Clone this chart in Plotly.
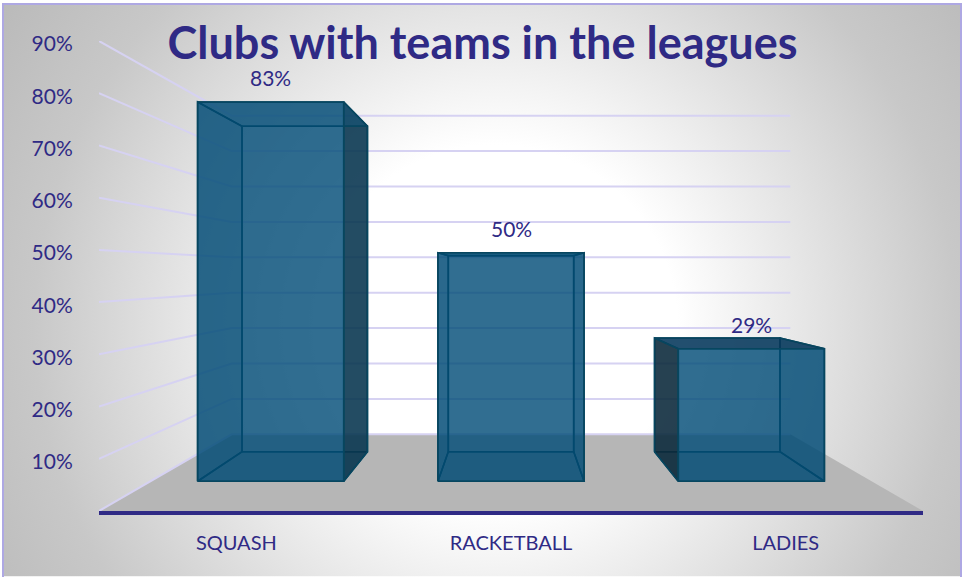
import base64

import plotly.graph_objects as go

CATEGORIES = ["SQUASH", "RACKETBALL", "LADIES"]
VALUES = [83, 50, 29]
TICK_VALUES = [0, 10, 20, 30, 40, 50, 60, 70, 80, 90]
TICK_LABELS = ["0%", "10%", "20%", "30%", "40%", "50%", "60%", "70%", "80%", "90%"]
TITLE = "Clubs with teams in the leagues"

NAVY = "#2F2A85"
GRID = "#D6D2F2"
FONT = "Lato"

# plot box in pixels
WIDTH, HEIGHT = 963, 577
LEFT, RIGHT, TOP, BOTTOM = 99, 923, 41, 511.5

# perspective: points shrink toward a vanishing point in data space
VANISH_X = 1.0
VANISH_Y = 45.6
DEPTH_FRONT = 0.875
DEPTH_REAR = 0.751
DEPTH_WALL = 0.678

BAR_WIDTH = 0.608
# the tick labels sit a little under their gridline starts
LABEL_DROP = 0.6


def project(x, value, depth):
    return VANISH_X + (x - VANISH_X) * depth, VANISH_Y + (value - VANISH_Y) * depth


def paper_x(px):
    return (px - LEFT) / (RIGHT - LEFT)


def paper_y(py):
    return (BOTTOM - py) / (BOTTOM - TOP)


def polygon(points, fill, line="#07465F", width=1.6):
    xs, ys = zip(*[project(*p) for p in points + points[:1]])
    return go.Scatter(
        x=xs,
        y=ys,
        mode="lines",
        fill="toself",
        fillcolor=fill,
        line=dict(color=line, width=width),
        hoverinfo="skip",
        cliponaxis=False,
    )


background = f"""<svg xmlns="http://www.w3.org/2000/svg" width="{WIDTH}" height="{HEIGHT}">
<defs><radialGradient id="g" gradientUnits="userSpaceOnUse" cx="495" cy="325" r="610">
<stop offset="0.3" stop-color="#ffffff"/><stop offset="0.76" stop-color="#c8c8c8"/><stop offset="1" stop-color="#b8b8b8"/>
</radialGradient></defs>
<rect width="{WIDTH}" height="{HEIGHT}" fill="url(#g)"/></svg>"""
background_uri = "data:image/svg+xml;base64," + base64.b64encode(background.encode()).decode()

fig = go.Figure()

# floor
fig.add_trace(
    polygon(
        [(-0.5, 0, 1), (-0.5, 0, DEPTH_WALL), (2.5, 0, DEPTH_WALL), (2.5, 0, 1)],
        "#B6B6B6",
        line="rgba(0,0,0,0)",
        width=0,
    )
)

# side wall and back wall gridlines
for tick in TICK_VALUES:
    pts = [project(-0.5, tick, 1), project(-0.5, tick, DEPTH_WALL), project(2.5, tick, DEPTH_WALL)]
    fig.add_trace(
        go.Scatter(
            x=[p[0] for p in pts],
            y=[p[1] for p in pts],
            mode="lines",
            line=dict(color=GRID, width=2),
            hoverinfo="skip",
            cliponaxis=False,
        )
    )

BACK = "rgba(0,75,119,0.45)"
FRONT = "rgba(0,75,119,0.65)"
INNER = "rgba(0,70,112,0.52)"
DARK_RIGHT = "rgba(9,51,75,0.8)"
DARK_LEFT = "rgba(12,38,52,0.8)"
DARK_TOP = "rgba(8,55,90,0.8)"

for i, value in enumerate(VALUES):
    x0 = i - BAR_WIDTH / 2
    x1 = i + BAR_WIDTH / 2
    f, r = DEPTH_FRONT, DEPTH_REAR

    fig.add_trace(polygon([(x0, 0, r), (x1, 0, r), (x1, value, r), (x0, value, r)], BACK))
    fig.add_trace(polygon([(x0, 0, f), (x1, 0, f), (x1, 0, r), (x0, 0, r)], INNER))

    # a side seen past the front face is dark, one seen through it is not
    left_out = project(x0, value, r)[0] < project(x0, value, f)[0]
    right_out = project(x1, value, r)[0] > project(x1, value, f)[0]
    top_out = project(x0, value, r)[1] > project(x0, value, f)[1]

    fig.add_trace(polygon([(x0, 0, f), (x0, 0, r), (x0, value, r), (x0, value, f)], DARK_LEFT if left_out else INNER))
    fig.add_trace(polygon([(x1, 0, f), (x1, 0, r), (x1, value, r), (x1, value, f)], DARK_RIGHT if right_out else INNER))
    fig.add_trace(polygon([(x0, value, f), (x1, value, f), (x1, value, r), (x0, value, r)], DARK_TOP if top_out else INNER))
    fig.add_trace(polygon([(x0, 0, f), (x1, 0, f), (x1, value, f), (x0, value, f)], FRONT))

    lx, ly = project(i, value, f)
    fig.add_annotation(
        x=lx,
        y=ly,
        text=f"{value}%",
        showarrow=False,
        yshift=24,
        font=dict(family=FONT, size=21, color=NAVY),
    )

fig.update_layout(
    width=WIDTH,
    height=HEIGHT,
    showlegend=False,
    paper_bgcolor="white",
    plot_bgcolor="rgba(0,0,0,0)",
    margin=dict(l=LEFT, r=WIDTH - RIGHT, t=TOP, b=HEIGHT - BOTTOM),
    title=dict(
        text=f"<b>{TITLE}</b>",
        x=482.5 / WIDTH,
        xanchor="center",
        y=1 - 43 / HEIGHT,
        yanchor="middle",
        font=dict(family=FONT, size=45, color=NAVY),
    ),
    xaxis=dict(
        range=[-0.5, 2.5],
        tickvals=[0, 1, 2],
        ticktext=CATEGORIES,
        ticks="outside",
        ticklen=11,
        tickcolor="rgba(0,0,0,0)",
        showgrid=False,
        zeroline=False,
        showline=True,
        linecolor=NAVY,
        linewidth=4,
        tickfont=dict(family=FONT, size=20, color=NAVY),
    ),
    yaxis=dict(
        range=[0, 90],
        tickvals=[t - LABEL_DROP for t in TICK_VALUES],
        ticktext=TICK_LABELS,
        ticks="outside",
        ticklen=21,
        tickcolor="rgba(0,0,0,0)",
        showgrid=False,
        zeroline=False,
        showline=False,
        tickfont=dict(family=FONT, size=21, color=NAVY),
    ),
    images=[
        dict(
            source=background_uri,
            xref="paper",
            yref="paper",
            x=paper_x(3),
            y=paper_y(4),
            sizex=paper_x(961) - paper_x(3),
            sizey=paper_y(4) - paper_y(577),
            xanchor="left",
            yanchor="top",
            sizing="stretch",
            layer="below",
        )
    ],
    shapes=[
        dict(
            type="rect",
            xref="paper",
            yref="paper",
            x0=paper_x(3),
            x1=paper_x(961),
            y0=paper_y(590),
            y1=paper_y(4),
            line=dict(color="#AEA8E3", width=2),
            layer="below",
        )
    ],
)

# default body margin would push the fixed-size figure 8px in
fig.write_html(
    "out.html",
    config={"displayModeBar": False},
    post_script="document.body.style.margin='0';",
)
